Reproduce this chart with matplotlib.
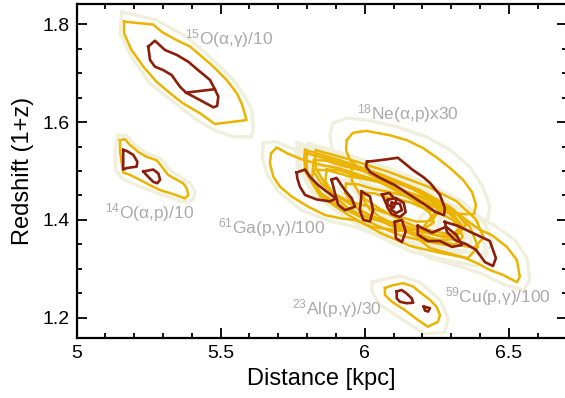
import numpy as np
import matplotlib
matplotlib.use("Agg")
import matplotlib.pyplot as plt

plt.rcParams['font.family'] = ['Liberation Sans', 'DejaVu Sans']
plt.rcParams['mathtext.fontset'] = 'custom'
plt.rcParams['mathtext.rm'] = 'Liberation Sans'
plt.rcParams['mathtext.default'] = 'regular'

RED = "#8c1e0a"
GOLD = "#ebb400"
PALE = "#efefdc"
LABEL = "#aaaaaa"

# 15O(a,g)/10
o15_pale_x = [5.157, 5.278, 5.382, 5.463, 5.544, 5.584, 5.608, 5.613, 5.608, 5.544, 5.475, 5.417, 5.255, 5.191, 5.151, 5.157]
o15_pale_y = [1.825, 1.808, 1.774, 1.733, 1.686, 1.652, 1.624, 1.590, 1.570, 1.570, 1.584, 1.604, 1.679, 1.733, 1.781, 1.825]
o15_gold_x = [5.165, 5.266, 5.296, 5.348, 5.394, 5.428, 5.475, 5.521, 5.556, 5.573, 5.590, 5.480, 5.428, 5.370, 5.324, 5.278, 5.232, 5.191, 5.165, 5.165]
o15_gold_y = [1.805, 1.799, 1.784, 1.767, 1.754, 1.737, 1.713, 1.686, 1.659, 1.638, 1.604, 1.596, 1.618, 1.638, 1.659, 1.682, 1.713, 1.747, 1.781, 1.805]
o15_red_x = [5.249, 5.272, 5.307, 5.348, 5.388, 5.422, 5.463, 5.480, 5.492, 5.488, 5.475, 5.428, 5.380, 5.359, 5.330, 5.301, 5.272, 5.255, 5.249]
o15_red_y = [1.754, 1.766, 1.747, 1.737, 1.723, 1.706, 1.686, 1.667, 1.652, 1.633, 1.630, 1.645, 1.660, 1.672, 1.696, 1.706, 1.713, 1.727, 1.754]
o15_bar_x = [5.380, 5.480]
o15_bar_y = [1.660, 1.667]

# 14O(a,p)/10
o14_pale_x = [5.145, 5.174, 5.203, 5.243, 5.290, 5.324, 5.359, 5.394, 5.411, 5.405, 5.370, 5.324, 5.266, 5.209, 5.157, 5.137, 5.134, 5.145]
o14_pale_y = [1.573, 1.573, 1.553, 1.536, 1.526, 1.502, 1.488, 1.475, 1.458, 1.441, 1.437, 1.446, 1.458, 1.471, 1.485, 1.502, 1.543, 1.573]
o14_gold_x = [5.151, 5.168, 5.186, 5.214, 5.243, 5.278, 5.296, 5.318, 5.348, 5.370, 5.382, 5.388, 5.376, 5.359, 5.324, 5.290, 5.255, 5.220, 5.186, 5.162, 5.157, 5.151, 5.151]
o14_gold_y = [1.563, 1.565, 1.553, 1.539, 1.529, 1.522, 1.509, 1.492, 1.482, 1.475, 1.465, 1.451, 1.444, 1.448, 1.455, 1.461, 1.471, 1.482, 1.492, 1.497, 1.516, 1.539, 1.563]
o14_red1_x = [5.162, 5.174, 5.197, 5.211, 5.209, 5.174, 5.162, 5.162, 5.162]
o14_red1_y = [1.543, 1.541, 1.533, 1.519, 1.509, 1.506, 1.503, 1.522, 1.543]
o14_red2_x = [5.232, 5.266, 5.284, 5.290, 5.280, 5.266, 5.249, 5.232]
o14_red2_y = [1.499, 1.503, 1.495, 1.482, 1.475, 1.478, 1.488, 1.499]

# 23Al(p,g)/30
al_pale_x = [6.025, 6.122, 6.191, 6.261, 6.289, 6.278, 6.209, 6.122, 6.053, 6.025, 6.025]
al_pale_y = [1.273, 1.286, 1.273, 1.237, 1.200, 1.171, 1.167, 1.200, 1.227, 1.253, 1.273]
al_gold_x = [6.070, 6.099, 6.134, 6.168, 6.197, 6.226, 6.249, 6.261, 6.254, 6.219, 6.184, 6.139, 6.094, 6.070, 6.070]
al_gold_y = [1.261, 1.267, 1.271, 1.264, 1.250, 1.237, 1.223, 1.206, 1.192, 1.182, 1.196, 1.216, 1.233, 1.247, 1.261]
al_red1_x = [6.111, 6.128, 6.145, 6.163, 6.168, 6.145, 6.122, 6.111, 6.111]
al_red1_y = [1.254, 1.257, 1.250, 1.240, 1.231, 1.230, 1.233, 1.240, 1.254]
al_red2_x = [6.205, 6.226, 6.220, 6.209, 6.205]
al_red2_y = [1.223, 1.220, 1.213, 1.215, 1.223]

# 61Ga(p,g)/100
ga_pale_x = [5.648, 5.689, 5.740, 5.793, 5.860, 5.930, 6.000, 6.080, 6.160, 6.230, 6.262, 6.250, 6.200, 6.120, 6.030, 5.966, 5.885, 5.781, 5.700, 5.660, 5.645, 5.648]
ga_pale_y = [1.557, 1.560, 1.548, 1.536, 1.525, 1.516, 1.505, 1.488, 1.465, 1.435, 1.405, 1.378, 1.362, 1.362, 1.372, 1.386, 1.397, 1.420, 1.458, 1.495, 1.525, 1.557]
ga_gold_x = [5.675, 5.694, 5.735, 5.781, 5.851, 5.908, 5.966, 6.035, 6.105, 6.170, 6.225, 6.240, 6.200, 6.120, 6.024, 5.966, 5.920, 5.862, 5.804, 5.746, 5.706, 5.683, 5.671, 5.675]
ga_gold_y = [1.536, 1.548, 1.535, 1.524, 1.512, 1.506, 1.495, 1.482, 1.461, 1.440, 1.415, 1.395, 1.380, 1.378, 1.386, 1.400, 1.403, 1.410, 1.427, 1.448, 1.468, 1.488, 1.516, 1.536]
ga_red_x = [5.764, 5.793, 5.810, 5.839, 5.868, 5.900, 5.880, 5.833, 5.793, 5.775, 5.766, 5.764]
ga_red_y = [1.497, 1.503, 1.488, 1.471, 1.458, 1.444, 1.438, 1.442, 1.451, 1.468, 1.485, 1.497]

# 18Ne(a,p)x30
ne_pale_x = [5.890, 5.938, 6.008, 6.112, 6.216, 6.296, 6.365, 6.410, 6.434, 6.427, 6.365, 6.261, 6.122, 6.018, 5.931, 5.890, 5.879, 5.890]
ne_pale_y = [1.598, 1.608, 1.604, 1.590, 1.569, 1.543, 1.508, 1.467, 1.427, 1.400, 1.396, 1.410, 1.445, 1.471, 1.498, 1.533, 1.573, 1.598]
ne_gold_x = [5.938, 5.959, 6.004, 6.087, 6.146, 6.202, 6.251, 6.296, 6.341, 6.372, 6.386, 6.379, 6.337, 6.278, 6.191, 6.122, 6.053, 5.990, 5.949, 5.935, 5.938]
ne_gold_y = [1.563, 1.578, 1.582, 1.573, 1.563, 1.547, 1.527, 1.506, 1.482, 1.457, 1.431, 1.412, 1.412, 1.420, 1.441, 1.461, 1.482, 1.502, 1.522, 1.543, 1.563]
ne_red_x = [6.008, 6.053, 6.115, 6.167, 6.202, 6.226, 6.261, 6.278, 6.275, 6.247, 6.209, 6.157, 6.105, 6.053, 6.018, 6.004, 6.008]
ne_red_y = [1.519, 1.522, 1.527, 1.502, 1.488, 1.476, 1.451, 1.424, 1.410, 1.416, 1.431, 1.451, 1.471, 1.486, 1.498, 1.510, 1.519]

# 59Cu(p,g)/100
cu_pale_x = [6.278, 6.365, 6.452, 6.521, 6.563, 6.573, 6.552, 6.486, 6.400, 6.313, 6.226, 6.167, 6.174, 6.219, 6.278]
cu_pale_y = [1.435, 1.416, 1.388, 1.359, 1.322, 1.278, 1.257, 1.267, 1.292, 1.308, 1.322, 1.347, 1.390, 1.424, 1.435]
cu_gold_x = [6.271, 6.330, 6.365, 6.400, 6.441, 6.493, 6.528, 6.538, 6.528, 6.479, 6.434, 6.389, 6.341, 6.285, 6.226, 6.191, 6.209, 6.243, 6.271]
cu_gold_y = [1.420, 1.410, 1.394, 1.380, 1.369, 1.345, 1.318, 1.284, 1.273, 1.288, 1.298, 1.312, 1.324, 1.333, 1.343, 1.359, 1.390, 1.414, 1.420]
cu_red_x = [6.278, 6.323, 6.365, 6.434, 6.455, 6.445, 6.417, 6.386, 6.351, 6.313, 6.285, 6.278]
cu_red_y = [1.396, 1.388, 1.376, 1.357, 1.322, 1.306, 1.314, 1.339, 1.351, 1.359, 1.376, 1.396]
cu_zig_x = [6.184, 6.233, 6.282, 6.317, 6.337, 6.303, 6.261, 6.219, 6.184, 6.184]
cu_zig_y = [1.388, 1.374, 1.386, 1.370, 1.349, 1.345, 1.357, 1.357, 1.370, 1.388]

# the other rates pile up in the middle: two outlines, moved and stretched per rate
core_x = [5.793, 5.914, 6.053, 6.191, 6.296, 6.365, 6.393, 6.358, 6.261, 6.157, 6.053, 5.949, 5.845, 5.793, 5.790, 5.793]
core_y = [1.543, 1.522, 1.494, 1.461, 1.427, 1.386, 1.345, 1.322, 1.333, 1.347, 1.374, 1.408, 1.449, 1.500, 1.530, 1.543]
core2_x = [5.820, 5.870, 5.940, 5.990, 6.070, 6.130, 6.220, 6.290, 6.330, 6.300, 6.240, 6.180, 6.100, 6.040, 5.960, 5.900, 5.850, 5.815, 5.820]
core2_y = [1.530, 1.528, 1.512, 1.505, 1.490, 1.470, 1.447, 1.420, 1.380, 1.352, 1.350, 1.362, 1.378, 1.395, 1.410, 1.432, 1.462, 1.500, 1.530]
core_shape = [0, 1, 0, 1, 0, 1, 1, 0, 1]
core_dx = [0.00, 0.03, -0.02, 0.07, 0.03, 0.10, -0.03, 0.06, 0.01]
core_dy = [0.000, -0.010, 0.008, -0.022, 0.010, -0.032, 0.018, 0.004, -0.006]
core_sx = [1.00, 0.92, 0.90, 0.80, 0.97, 0.65, 0.85, 0.62, 1.04]
core_sy = [1.00, 0.80, 0.86, 0.60, 0.90, 0.50, 0.70, 0.62, 0.75]

# red islands in the pile-up
red_loops = [
    ([5.885, 5.902, 5.931, 5.955, 5.966, 5.931, 5.908, 5.897, 5.885],
     [1.482, 1.486, 1.461, 1.444, 1.427, 1.420, 1.431, 1.454, 1.482]),
    ([5.989, 6.018, 6.029, 6.018, 5.995, 5.983, 5.987, 5.989],
     [1.458, 1.448, 1.420, 1.397, 1.400, 1.420, 1.441, 1.458]),
    ([6.080, 6.108, 6.135, 6.142, 6.122, 6.094, 6.077, 6.080],
     [1.441, 1.445, 1.435, 1.416, 1.406, 1.412, 1.427, 1.441]),
    ([6.094, 6.122, 6.129, 6.108, 6.091, 6.094],
     [1.435, 1.433, 1.420, 1.414, 1.422, 1.435]),
    ([6.104, 6.129, 6.142, 6.129, 6.108, 6.104],
     [1.396, 1.400, 1.376, 1.355, 1.363, 1.396]),
    ([6.060, 6.085, 6.110, 6.100, 6.075, 6.060],
     [1.452, 1.455, 1.440, 1.425, 1.432, 1.452]),
]

labels = [r"$^{15}$O(α,γ)/10", r"$^{18}$Ne(α,p)x30", r"$^{14}$O(α,p)/10",
          r"$^{61}$Ga(p,γ)/100", r"$^{23}$Al(p,γ)/30", r"$^{59}$Cu(p,γ)/100"]
label_x = [5.376, 5.973, 5.099, 5.491, 5.747, 6.278]
label_y = [1.771, 1.618, 1.416, 1.384, 1.220, 1.243]

fig = plt.figure(figsize=(5.65, 3.98), dpi=100)
ax = fig.add_axes([76.5 / 565, 60 / 398, 490 / 565, 334 / 398])

pale = [(o15_pale_x, o15_pale_y), (o14_pale_x, o14_pale_y), (al_pale_x, al_pale_y),
        (ga_pale_x, ga_pale_y), (ne_pale_x, ne_pale_y), (cu_pale_x, cu_pale_y)]
gold = [(o15_gold_x, o15_gold_y), (o14_gold_x, o14_gold_y), (al_gold_x, al_gold_y),
        (ga_gold_x, ga_gold_y), (ne_gold_x, ne_gold_y), (cu_gold_x, cu_gold_y)]
red = [(o15_red_x, o15_red_y), (o15_bar_x, o15_bar_y), (o14_red1_x, o14_red1_y),
       (o14_red2_x, o14_red2_y), (al_red1_x, al_red1_y), (al_red2_x, al_red2_y),
       (ga_red_x, ga_red_y), (ne_red_x, ne_red_y), (cu_red_x, cu_red_y),
       (cu_zig_x, cu_zig_y)] + red_loops

templates = [(np.array(core_x), np.array(core_y)), (np.array(core2_x), np.array(core2_y))]
for k, dx, dy, sx, sy in zip(core_shape, core_dx, core_dy, core_sx, core_sy):
    tx, ty = templates[k]
    cx0, cy0 = tx.mean(), ty.mean()
    xs = cx0 + dx + (tx - cx0) * sx
    ys = cy0 + dy + (ty - cy0) * sy
    # pale 99% outline a bit wider than the gold one
    ax.plot(cx0 + dx + (tx - cx0) * sx * 1.1, cy0 + dy + (ty - cy0) * sy * 1.14,
            color=PALE, lw=2.4, zorder=1)
    ax.plot(xs, ys, color=GOLD, lw=1.8, zorder=2)

for x, y in pale:
    ax.plot(x, y, color=PALE, lw=2.4, zorder=1)
for x, y in gold:
    ax.plot(x, y, color=GOLD, lw=1.8, zorder=2)
for x, y in red:
    ax.plot(x, y, color=RED, lw=1.9, zorder=3)

for t, x, y in zip(labels, label_x, label_y):
    ax.text(x, y, t, color=LABEL, fontsize=12.5, va='center', ha='left')

ax.set_xlim(5, 6.7)
ax.set_ylim(1.159, 1.841)
ax.set_xticks([5, 5.5, 6, 6.5])
ax.set_xticklabels(['5', '5.5', '6', '6.5'])
ax.set_yticks([1.2, 1.4, 1.6, 1.8])
ax.set_xticks(np.arange(5.1, 6.7, 0.1), minor=True)
ax.set_yticks(np.arange(1.2, 1.84, 0.05), minor=True)
ax.tick_params(which='both', direction='in', top=True, right=True, width=1.3,
               labelsize=14, pad=5)
ax.tick_params(which='major', length=7)
ax.tick_params(which='minor', length=3.6)
for sp in ax.spines.values():
    sp.set_linewidth(1.6)
ax.set_xlabel("Distance [kpc]", fontsize=17, labelpad=4)
ax.set_ylabel("Redshift (1+z)", fontsize=17, labelpad=6)

fig.savefig("out.png", dpi=100)
